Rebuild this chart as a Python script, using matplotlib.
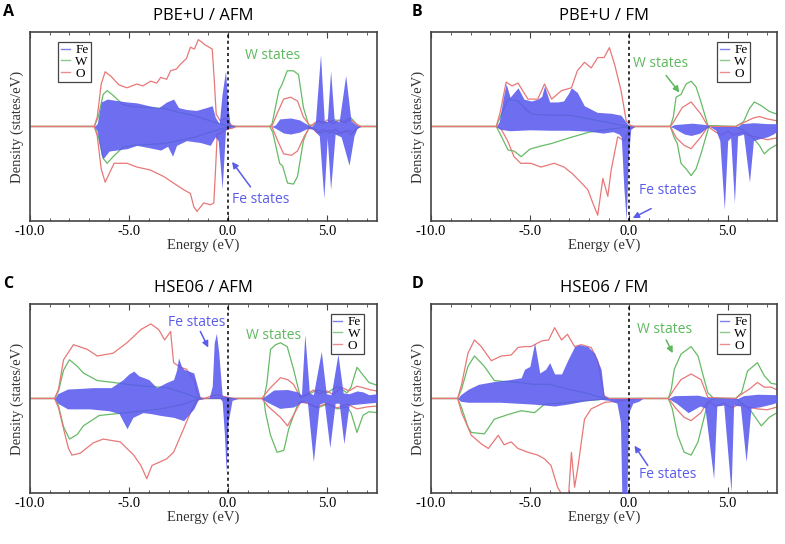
import matplotlib
matplotlib.use("Agg")
import matplotlib.pyplot as plt
from matplotlib.lines import Line2D
from matplotlib.ticker import MultipleLocator

# ---- data: (energy eV, density), up / down spin ----
# panel A: PBE+U / AFM
A_FE_UP = [(-10, 0), (-6.75, 0), (-6.6, 0.3), (-6.4, 2.6), (-6.1, 2.9), (-5.1, 2.6), (-4.6, 2.5),
           (-4.0, 2.2), (-3.5, 2.0), (-3.1, 2.6), (-2.75, 2.9), (-2.5, 2.0), (-2.1, 1.8), (-1.6, 1.7),
           (-1.1, 2.0), (-0.8, 2.2), (-0.65, 1.0), (-0.45, 0.3), (-0.3, 3.5), (-0.13, 5.9), (0.0, 2.0),
           (0.1, 0.2), (0.4, 0), (2.2, 0), (2.4, 0.2), (2.6, 0.8), (3.15, 0.9), (3.6, 0.7), (4.0, 0.2),
           (4.2, 0), (4.4, 0.4), (4.66, 7.6), (4.85, 0.6), (5.0, 0.5), (5.17, 5.9), (5.35, 0.7),
           (5.6, 0.5), (5.93, 5.4), (6.2, 0.6), (6.45, 0.2), (6.6, 0), (7.5, 0)]
A_FE_DN = [(-10, 0), (-6.75, 0), (-6.6, -0.5), (-6.4, -3.0), (-6.3, -3.4), (-6.0, -2.6), (-5.1, -2.35),
           (-4.6, -2.0), (-4.1, -2.2), (-3.4, -2.5), (-3.05, -2.1), (-2.8, -3.15), (-2.6, -2.0),
           (-2.1, -1.5), (-1.4, -1.7), (-0.9, -2.0), (-0.65, -1.1), (-0.5, -1.5), (-0.3, -6.6),
           (-0.13, -0.4), (0.1, -0.1), (0.4, 0), (2.2, 0), (2.4, -0.2), (2.8, -0.7), (3.15, -0.8),
           (3.6, -0.6), (4.0, -0.2), (4.3, -0.3), (4.6, -1.0), (4.83, -7.6), (5.0, -1.2), (5.17, -6.7),
           (5.4, -0.8), (5.7, -1.1), (6.1, -4.1), (6.35, -1.0), (6.5, -0.2), (6.7, 0), (7.5, 0)]
A_W_UP = [(-10, 0), (-6.75, 0), (-6.55, 1.0), (-6.3, 3.4), (-6.1, 3.8), (-5.8, 3.3), (-5.3, 2.3),
          (-4.8, 2.1), (-4.0, 2.0), (-3.2, 1.9), (-2.5, 1.5), (-1.8, 1.2), (-1.2, 0.8), (-0.6, 0.4),
          (-0.1, 0.1), (0.3, 0), (2.1, 0), (2.22, 0.3), (2.56, 3.8), (2.73, 4.5), (2.98, 5.9),
          (3.3, 5.9), (3.55, 5.5), (3.8, 2.0), (4.07, 0.1), (4.3, 0.2), (4.6, 0.6), (5.0, 0.4),
          (5.4, 0.7), (5.8, 0.5), (6.2, 0.9), (6.5, 0.2), (6.7, 0), (7.5, 0)]
A_W_DN = [(-10, 0), (-6.75, 0), (-6.55, -1.0), (-6.3, -3.4), (-6.1, -3.9), (-5.8, -3.2), (-5.3, -2.2),
          (-4.8, -2.0), (-4.0, -1.9), (-3.2, -1.8), (-2.5, -1.5), (-1.8, -1.2), (-1.2, -0.8), (-0.6, -0.4),
          (-0.1, -0.1), (0.3, 0), (2.1, 0), (2.25, -0.6), (2.6, -3.9), (2.75, -4.2), (3.0, -6.0),
          (3.3, -6.1), (3.5, -5.3), (3.8, -1.5), (4.07, -0.1), (4.4, -0.3), (4.7, -0.7), (5.1, -0.4),
          (5.5, -0.8), (5.9, -0.5), (6.2, -0.9), (6.5, -0.2), (6.7, 0), (7.5, 0)]
A_O_UP = [(-10, 0), (-6.75, 0), (-6.6, 1.0), (-6.4, 4.5), (-6.2, 5.8), (-5.9, 5.3), (-5.5, 4.4),
          (-5.1, 4.1), (-4.6, 4.5), (-4.3, 4.3), (-3.9, 4.8), (-3.6, 4.6), (-3.4, 5.2), (-3.1, 5.0),
          (-2.9, 5.9), (-2.6, 6.1), (-2.4, 6.6), (-2.1, 7.2), (-1.9, 8.4), (-1.7, 8.2), (-1.5, 9.2),
          (-1.3, 8.9), (-1.2, 8.7), (-0.8, 8.2), (-0.7, 5.0), (-0.6, 1.3), (-0.4, 0.6), (-0.15, 0.9),
          (0.0, 0.5), (0.2, 0.1), (0.4, 0), (2.2, 0), (2.5, 1.5), (2.8, 2.9), (3.15, 3.1), (3.5, 2.7),
          (3.8, 1.0), (4.15, 0), (4.5, 0.6), (4.8, 0.3), (5.0, 0.7), (5.3, 0.3), (5.6, 0.7), (5.9, 0.4),
          (6.2, 0.7), (6.5, 0.2), (6.7, 0), (7.5, 0)]
A_O_DN = [(-10, 0), (-6.75, 0), (-6.6, -1.0), (-6.4, -4.5), (-6.2, -5.9), (-5.75, -3.9), (-5.1, -3.9),
          (-4.6, -4.3), (-3.94, -4.6), (-3.25, -5.3), (-2.75, -6.0), (-2.24, -6.7), (-1.9, -7.1),
          (-1.73, -8.5), (-1.57, -9.0), (-1.23, -8.1), (-0.89, -8.3), (-0.72, -8.1), (-0.62, -4.0),
          (-0.55, -0.8), (-0.35, -0.7), (-0.15, -0.3), (0.2, -0.2), (0.4, 0), (2.2, 0), (2.5, -1.5),
          (2.8, -2.9), (3.2, -3.05), (3.5, -2.6), (3.85, -1.0), (4.15, 0), (4.5, -0.7), (4.8, -0.3),
          (5.1, -0.7), (5.4, -0.3), (5.7, -0.7), (6.0, -0.4), (6.3, -0.6), (6.6, 0), (7.5, 0)]

# panel B: PBE+U / FM
B_FE_UP = [(-10, 0), (-6.7, 0), (-6.55, 0.5), (-6.35, 3.0), (-6.2, 4.5), (-6.0, 3.1), (-5.8, 3.6),
           (-5.6, 4.1), (-5.3, 2.9), (-4.93, 2.7), (-4.6, 2.9), (-4.4, 3.2), (-4.26, 4.3), (-4.0, 2.6),
           (-3.6, 2.6), (-3.3, 2.7), (-3.05, 3.5), (-2.9, 4.1), (-2.6, 3.6), (-2.25, 2.2), (-1.6, 1.5),
           (-0.9, 1.4), (-0.4, 1.2), (-0.15, 0.5), (0.0, 0.1), (0.3, 0), (2.1, 0), (2.3, 0.2),
           (3.2, 0.35), (3.9, 0.2), (4.1, 0), (5.5, 0), (5.7, 0.3), (6.3, 0.4), (7.0, 0.3), (7.5, 0.3)]
B_FE_DN = [(-10, 0), (-6.7, 0), (-6.5, -0.3), (-6.0, -0.45), (-5.0, -0.35), (-4.0, -0.4), (-3.0, -0.4),
           (-2.0, -0.5), (-1.3, -0.7), (-0.8, -0.55), (-0.5, -0.8), (-0.38, -1.1), (-0.25, -6.5),
           (-0.13, -9.9), (-0.02, -3.2), (0.1, -0.3), (0.3, 0), (2.1, 0), (2.3, -0.2), (2.8, -0.8),
           (3.15, -0.95), (3.6, -0.7), (3.9, -0.2), (4.1, 0), (4.4, -0.4), (4.6, -1.5), (4.83, -8.8),
           (5.0, -1.5), (5.15, -1.2), (5.34, -8.1), (5.5, -1.0), (5.8, -0.8), (6.1, -5.9), (6.3, -1.5),
           (6.6, -1.3), (7.0, -1.1), (7.3, -0.8), (7.5, -0.5)]
B_W_UP = [(-10, 0), (-6.7, 0), (-6.5, 1.0), (-6.1, 2.9), (-5.6, 2.7), (-5.2, 1.8), (-4.9, 1.3),
          (-4.0, 1.2), (-3.0, 1.2), (-2.0, 0.8), (-1.0, 0.4), (-0.3, 0.1), (0.3, 0), (2.1, 0),
          (2.25, 1.0), (2.39, 3.1), (2.64, 3.4), (2.9, 4.5), (3.15, 4.8), (3.4, 4.2), (3.65, 2.6),
          (4.0, 0.1), (5.4, 0), (5.8, 0.5), (6.1, 1.9), (6.35, 2.6), (6.7, 2.2), (7.1, 1.6), (7.5, 1.3)]
B_W_DN = [(-10, 0), (-6.7, 0), (-6.5, -0.8), (-6.1, -2.5), (-5.8, -2.6), (-5.44, -3.2), (-5.0, -2.4),
          (-4.5, -2.1), (-3.9, -1.8), (-3.0, -1.2), (-2.0, -0.6), (-1.0, -0.3), (-0.3, -0.1), (0.3, 0),
          (2.1, 0), (2.3, -1.2), (2.45, -1.8), (2.64, -3.9), (2.9, -4.5), (3.15, -5.2), (3.4, -4.5),
          (3.65, -2.9), (4.05, 0), (5.4, 0), (5.8, -0.4), (6.2, -1.0), (6.6, -2.0), (6.85, -2.9),
          (7.1, -2.4), (7.5, -1.9)]
B_O_UP = [(-10, 0), (-6.7, 0), (-6.5, 1.5), (-6.2, 4.7), (-5.9, 4.3), (-5.6, 4.6), (-5.1, 2.9),
          (-4.6, 2.9), (-4.26, 4.5), (-3.9, 2.9), (-3.4, 3.8), (-2.9, 4.1), (-2.6, 5.9), (-2.24, 6.8),
          (-1.9, 6.2), (-1.57, 7.3), (-1.25, 7.3), (-0.98, 8.35), (-0.72, 6.6), (-0.39, 3.8),
          (-0.13, 0.6), (0.1, 0.1), (0.3, 0), (2.1, 0), (2.3, 0.6), (2.7, 2.0), (3.15, 2.6), (3.65, 1.3),
          (4.0, 0), (5.4, 0), (5.8, 0.4), (6.3, 0.9), (6.6, 1.05), (7.0, 0.8), (7.5, 0.6)]
B_O_DN = [(-10, 0), (-6.7, 0), (-6.46, -0.25), (-6.13, -1.5), (-5.8, -3.2), (-5.46, -3.9), (-4.95, -3.9),
          (-4.44, -4.3), (-3.77, -3.9), (-3.27, -4.3), (-2.85, -5.0), (-2.43, -5.9), (-2.07, -6.7),
          (-1.82, -8.1), (-1.57, -9.4), (-1.31, -5.5), (-1.06, -7.4), (-0.89, -4.6), (-0.56, -1.1),
          (-0.22, -1.5), (0.0, -0.3), (0.3, 0), (2.1, 0), (2.4, -1.2), (2.8, -2.0), (3.15, -2.35),
          (3.65, -1.1), (4.0, 0), (4.4, -0.6), (4.7, -0.9), (5.0, -0.5), (5.3, -0.9), (5.7, -0.6),
          (6.1, -1.0), (6.6, -1.2), (7.0, -1.4), (7.5, -1.2)]

# panel C: HSE06 / AFM
C_FE_UP = [(-10, 0), (-8.75, 0), (-8.6, 0.5), (-8.1, 1.0), (-7.6, 1.05), (-6.8, 1.15), (-5.9, 1.15),
           (-5.3, 2.0), (-5.0, 2.6), (-4.76, 2.9), (-4.5, 2.4), (-4.0, 2.0), (-3.6, 1.15), (-3.1, 1.7),
           (-2.75, 2.0), (-2.6, 3.0), (-2.5, 4.3), (-2.35, 3.4), (-2.24, 3.1), (-1.73, 2.7), (-1.55, 1.3),
           (-1.4, 0.1), (-1.1, 0), (-0.95, 0.1), (-0.8, 1.3), (-0.7, 5.9), (-0.59, 6.9), (-0.47, 4.8),
           (-0.3, 0.3), (0.2, 0.1), (0.5, 0), (1.7, 0), (1.9, 0.3), (2.3, 0.9), (3.0, 0.95), (3.5, 0.7),
           (3.7, 0.4), (3.87, 6.8), (4.1, 0.6), (4.3, 0.4), (4.7, 5.0), (4.95, 0.5), (5.2, 0.4),
           (5.54, 4.7), (5.8, 0.6), (6.1, 0.5), (6.5, 0.8), (6.8, 0.7), (7.1, 0.4), (7.5, 0.5)]
C_FE_DN = [(-10, 0), (-8.75, 0), (-8.6, -0.5), (-8.1, -1.1), (-7.0, -1.1), (-6.0, -1.3), (-5.5, -1.6),
           (-5.1, -3.2), (-4.8, -2.0), (-4.3, -1.5), (-3.9, -1.6), (-3.4, -1.8), (-2.75, -2.0),
           (-2.24, -2.35), (-1.73, -1.1), (-1.5, -0.1), (-1.2, 0), (-0.4, 0), (-0.3, -0.3), (-0.18, -4.0),
           (-0.1, -7.8), (0.0, -2.5), (0.2, -0.2), (0.5, 0), (1.7, 0), (1.9, -0.3), (2.6, -1.05),
           (3.3, -0.9), (3.7, -0.4), (4.0, -0.4), (4.3, -6.7), (4.6, -0.6), (4.85, -0.4), (5.13, -5.2),
           (5.4, -0.5), (5.6, -0.5), (5.84, -4.8), (6.1, -0.7), (6.5, -0.6), (7.0, -0.5), (7.5, -0.4)]
C_W_UP = [(-10, 0), (-8.75, 0), (-8.55, 0.8), (-8.3, 3.0), (-8.0, 4.1), (-7.6, 3.4), (-7.3, 2.7),
          (-6.6, 1.9), (-5.8, 1.7), (-5.1, 1.5), (-4.2, 1.3), (-3.1, 1.15), (-2.24, 0.6), (-1.6, 0.1),
          (-1.2, 0), (1.8, 0), (1.95, 1.5), (2.14, 5.2), (2.4, 5.7), (2.64, 5.9), (2.98, 5.5), (3.3, 3.1),
          (3.65, 0.1), (4.0, 0.4), (4.5, 0.9), (5.0, 0.6), (5.5, 1.3), (6.0, 0.6), (6.2, 1.2), (6.5, 3.3),
          (6.8, 2.5), (7.1, 1.7), (7.5, 1.4)]
C_W_DN = [(-10, 0), (-8.75, 0), (-8.55, -0.8), (-8.3, -3.0), (-8.0, -4.3), (-7.6, -3.8), (-7.3, -2.9),
          (-6.5, -1.8), (-5.1, -1.5), (-3.4, -1.1), (-2.24, -0.6), (-1.6, -0.1), (-1.2, 0), (1.8, 0),
          (1.89, -1.5), (2.14, -3.9), (2.47, -5.7), (2.81, -5.5), (3.06, -3.2), (3.48, -0.8), (3.7, -0.3),
          (4.0, -0.5), (4.5, -1.0), (5.0, -0.6), (5.5, -1.1), (6.0, -0.9), (6.2, -1.5), (6.5, -3.6),
          (6.8, -1.8), (7.1, -1.4), (7.5, -1.5)]
C_O_UP = [(-10, 0), (-8.75, 0), (-8.55, 1.0), (-8.3, 4.1), (-7.8, 5.7), (-7.1, 5.2), (-6.6, 4.5),
          (-5.8, 4.8), (-5.1, 5.9), (-4.4, 7.3), (-3.9, 7.9), (-3.5, 7.3), (-3.2, 6.2), (-2.9, 7.1),
          (-2.75, 3.8), (-2.4, 3.3), (-2.1, 3.1), (-1.73, 2.0), (-1.5, 0.1), (-1.2, 0), (-0.8, 0.3),
          (-0.5, 0.4), (-0.2, 0.2), (0.3, 0), (1.7, 0), (2.0, 0.8), (2.14, 1.15), (2.64, 2.2), (3.0, 2.0),
          (3.3, 1.5), (3.65, 0.1), (4.0, 0.5), (4.3, 0.9), (4.6, 0.5), (5.0, 0.8), (5.3, 0.4), (5.7, 1.2),
          (6.1, 0.8), (6.5, 1.3), (6.8, 1.15), (7.2, 0.9), (7.5, 0.8)]
C_O_DN = [(-10, 0), (-8.75, 0), (-8.55, -1.0), (-8.3, -3.2), (-8.05, -5.3), (-7.88, -6.0), (-7.46, -5.8),
          (-6.8, -4.7), (-6.3, -4.3), (-5.44, -4.6), (-5.1, -5.3), (-4.76, -6.0), (-4.4, -7.1),
          (-4.1, -8.5), (-3.84, -7.1), (-3.42, -6.7), (-3.1, -6.4), (-2.75, -5.7), (-2.24, -3.2),
          (-1.9, -1.5), (-1.6, -0.2), (-1.2, 0), (0.3, 0), (1.7, 0), (2.0, -0.8), (2.64, -2.0),
          (3.0, -2.9), (3.65, -0.4), (4.0, -0.5), (4.5, -0.9), (5.0, -0.5), (5.5, -1.0), (6.0, -0.6),
          (6.5, -1.1), (7.0, -0.9), (7.5, -0.8)]

# panel D: HSE06 / FM
D_FE_UP = [(-10, 0), (-8.65, 0), (-8.5, 0.4), (-8.1, 1.0), (-7.6, 1.5), (-6.8, 1.8), (-6.0, 2.0),
           (-5.44, 2.2), (-5.27, 3.1), (-5.0, 3.4), (-4.76, 5.9), (-4.5, 2.7), (-4.2, 3.1), (-4.0, 3.8),
           (-3.75, 2.6), (-3.4, 2.6), (-3.1, 4.0), (-2.74, 5.5), (-2.5, 5.7), (-2.07, 5.5), (-1.73, 4.8),
           (-1.4, 3.1), (-1.25, 0.3), (-1.0, 0), (2.0, 0), (2.3, 0.3), (3.5, 0.35), (4.0, 0.1), (5.5, 0),
           (5.8, 0.3), (6.5, 0.45), (7.5, 0.4)]
D_FE_DN = [(-10, 0), (-8.65, 0), (-8.5, -0.3), (-8.13, -0.4), (-6.5, -0.4), (-4.8, -0.6), (-3.75, -0.8),
           (-3.1, -0.6), (-2.2, -0.25), (-1.4, -0.1), (-1.0, -0.2), (-0.6, -0.5), (-0.42, -2.5),
           (-0.35, -10.5), (-0.1, -10.5), (0.0, -1.5), (0.2, -0.5), (0.5, -0.3), (0.7, 0), (2.0, 0),
           (2.4, -0.5), (3.0, -1.5), (3.6, -0.8), (3.85, -1.0), (4.29, -8.5), (4.45, -0.8), (4.8, -0.7),
           (5.17, -9.9), (5.3, -0.7), (5.64, -0.8), (5.93, -6.7), (6.18, -1.0), (6.6, -0.9), (7.2, -0.6),
           (7.5, -0.4)]
D_W_UP = [(-10, 0), (-8.65, 0), (-8.45, 1.0), (-8.13, 3.4), (-7.8, 4.5), (-7.3, 3.4), (-6.8, 1.9),
          (-6.3, 1.8), (-5.6, 1.7), (-4.8, 1.5), (-4.0, 1.5), (-3.1, 1.0), (-2.2, 0.6), (-1.4, 0.1),
          (-1.0, 0), (2.0, 0), (2.15, 1.0), (2.3, 3.1), (2.64, 4.7), (3.15, 5.5), (3.5, 4.5), (3.75, 2.5),
          (4.0, 0.6), (4.3, 0), (5.4, 0), (5.7, 0.6), (6.0, 2.9), (6.5, 3.8), (6.85, 2.4), (7.2, 1.6),
          (7.5, 1.5)]
D_W_DN = [(-10, 0), (-8.65, 0), (-8.45, -1.0), (-8.13, -3.0), (-7.96, -3.6), (-7.3, -3.75), (-6.8, -2.2),
          (-6.1, -1.7), (-5.44, -1.3), (-4.76, -1.5), (-4.26, -0.6), (-3.5, -0.5), (-2.5, -0.3),
          (-1.4, -0.1), (-1.0, 0), (2.0, 0), (2.2, -1.1), (2.47, -3.9), (2.8, -5.7), (3.15, -6.0),
          (3.5, -4.6), (4.0, -0.4), (4.3, 0), (5.4, 0), (5.8, -0.6), (6.2, -1.4), (6.7, -2.9), (7.1, -2.0),
          (7.5, -1.5)]
D_O_UP = [(-10, 0), (-8.65, 0), (-8.45, 1.5), (-8.13, 4.8), (-7.8, 6.2), (-7.46, 5.5), (-6.95, 4.0),
          (-6.45, 4.5), (-5.95, 4.6), (-5.6, 5.4), (-5.27, 5.5), (-4.94, 5.5), (-4.4, 6.1), (-4.05, 6.2),
          (-3.75, 7.5), (-3.4, 6.2), (-3.1, 6.8), (-2.74, 5.5), (-2.4, 5.7), (-1.9, 5.4), (-1.57, 4.0),
          (-1.25, 0.3), (-1.0, 0), (2.0, 0), (2.3, 1.0), (2.64, 2.0), (3.15, 2.6), (3.65, 2.0), (4.0, 0.1),
          (5.4, 0), (5.8, 0.6), (6.1, 1.0), (6.5, 1.7), (6.85, 1.2), (7.2, 1.2), (7.5, 0.9)]
D_O_DN = [(-10, 0), (-8.65, 0), (-8.45, -1.5), (-7.96, -3.9), (-7.46, -4.8), (-7.1, -5.3), (-6.6, -3.9),
          (-6.3, -4.9), (-5.95, -4.6), (-5.6, -5.3), (-5.1, -5.7), (-4.6, -6.0), (-4.26, -6.4),
          (-3.93, -7.1), (-3.6, -9.4), (-3.3, -10.5), (-3.05, -10.5), (-2.9, -5.7), (-2.74, -9.4),
          (-2.58, -7.4), (-2.24, -2.2), (-1.9, -1.1), (-1.2, -0.4), (-0.6, -0.3), (0.0, -0.1), (0.3, 0),
          (2.0, 0), (2.4, -1.1), (2.8, -2.0), (3.15, -2.35), (3.65, -1.5), (4.0, -0.3), (4.4, -0.8),
          (4.8, -0.5), (5.2, -1.0), (5.6, -0.6), (6.0, -0.9), (6.5, -1.1), (7.0, -1.2), (7.5, -0.9)]

TITLES = ["PBE+U / AFM", "PBE+U / FM", "HSE06 / AFM", "HSE06 / FM"]
LETTERS = ["A", "B", "C", "D"]
XTICKS = [-10, -5, 0, 5]
XTICKLABELS = ["-10.0", "-5.0", "0.0", "5.0"]

FE_C = "#5a5aee"
W_C = "#66bb66"
O_C = "#e87878"
TXT_FE = "#5c5cea"
TXT_W = "#5fb85f"

panels = [
    (A_FE_UP, A_FE_DN, A_W_UP, A_W_DN, A_O_UP, A_O_DN),
    (B_FE_UP, B_FE_DN, B_W_UP, B_W_DN, B_O_UP, B_O_DN),
    (C_FE_UP, C_FE_DN, C_W_UP, C_W_DN, C_O_UP, C_O_DN),
    (D_FE_UP, D_FE_DN, D_W_UP, D_W_DN, D_O_UP, D_O_DN),
]

# axes rectangles (figure fraction) and legend anchors
rects = [(0.038, 0.594, 0.442, 0.347), (0.549, 0.594, 0.441, 0.347),
         (0.038, 0.094, 0.442, 0.347), (0.549, 0.094, 0.441, 0.347)]
leg_anchor = [("upper left", (0.082, 0.95)), ("upper right", (0.922, 0.95)),
              ("upper right", (0.962, 0.95)), ("upper right", (0.922, 0.95))]
letter_x = [3 / 785, 412 / 785, 3 / 785, 412 / 785]
# annotations: (text, color, text xy, arrow tail xy or None, arrow head xy)
notes = [
    [("W states", TXT_W, (2.22, 7.5), None, None),
     ("Fe states", TXT_FE, (1.63, -7.7), (1.13, -6.4), (0.2, -3.75))],
    [("W states", TXT_W, (1.63, 6.7), (1.89, 5.4), (2.56, 3.6)),
     ("Fe states", TXT_FE, (1.97, -6.8), (1.13, -8.7), (0.2, -9.7))],
    [("Fe states", TXT_FE, (-1.57, 8.1), (-1.4, 7.1), (-1.0, 5.4)),
     ("W states", TXT_W, (2.3, 6.7), None, None)],
    [("W states", TXT_W, (1.8, 7.3), (1.89, 6.2), (2.22, 4.8)),
     ("Fe states", TXT_FE, (1.97, -8.1), (0.96, -7.1), (0.29, -5.0))],
]


def xy(curve):
    return [p[0] for p in curve], [p[1] for p in curve]


fig = plt.figure(figsize=(7.85, 5.44), dpi=100)
serif = "Liberation Serif"
sans = "Open Sans"

for i, data in enumerate(panels):
    ax = fig.add_axes(rects[i])
    fe_up, fe_dn, w_up, w_dn, o_up, o_dn = data
    for curve, c in [(w_up, W_C), (w_dn, W_C), (o_up, O_C), (o_dn, O_C)]:
        e, v = xy(curve)
        ax.plot(e, v, color=c, lw=0.9, zorder=2)
    e, v = xy(fe_up)
    ax.fill_between(e, 0, v, color=FE_C, alpha=0.88, lw=0, zorder=3)
    e, v = xy(fe_dn)
    ax.fill_between(e, v, 0, color=FE_C, alpha=0.88, lw=0, zorder=3)
    ax.axvline(0, color="black", ls=(0, (2, 2)), lw=1.1, zorder=4)

    ax.set_xlim(-10, 7.5)
    ax.set_ylim(-10, 10)
    ax.set_xticks(XTICKS)
    ax.set_xticklabels(XTICKLABELS, fontfamily=serif, fontsize=10.5)
    ax.xaxis.set_minor_locator(MultipleLocator(1))
    ax.tick_params(axis="x", which="both", direction="in", top=True, color="#444", pad=3)
    ax.tick_params(axis="x", which="major", length=4)
    ax.tick_params(axis="x", which="minor", length=2.5)
    ax.set_yticks([])
    for s in ax.spines.values():
        s.set_color("#444")
        s.set_linewidth(1.2)
    ax.set_xlabel("Energy (eV)", fontfamily=serif, fontsize=10.5, labelpad=0, color="#333")
    ax.set_ylabel("Density (states/eV)", fontfamily=serif, fontsize=10.5, labelpad=4, color="#333")
    ax.set_title(TITLES[i], fontfamily=sans, fontsize=12, pad=9)

    handles = [Line2D([], [], color="#8080e6", lw=1), Line2D([], [], color="#8cc88c", lw=1),
               Line2D([], [], color="#eb8c8c", lw=1)]
    loc, anchor = leg_anchor[i]
    leg = ax.legend(handles, ["Fe", "W", "O"], loc=loc, bbox_to_anchor=anchor,
                    prop={"family": serif, "size": 9.5}, fancybox=False, framealpha=1,
                    edgecolor="#444", handlelength=0.7, handletextpad=0.4,
                    borderpad=0.2, labelspacing=-0.05, borderaxespad=0)
    leg.get_frame().set_linewidth(0.9)
    leg.set_zorder(6)

    for text, c, txy, tail, head in notes[i]:
        ax.text(txy[0], txy[1], text, color=c, fontfamily=sans, fontsize=10,
                ha="center", va="center", zorder=7)
        if tail is not None:
            ax.annotate("", xy=head, xytext=tail, zorder=7,
                        arrowprops=dict(arrowstyle="-|>", color=c, lw=1.1,
                                        mutation_scale=9, shrinkA=0, shrinkB=0))

    x0, y0, w, h = rects[i]
    fig.text(letter_x[i], y0 + h + 0.037, LETTERS[i], fontfamily=sans,
             fontweight="bold", fontsize=11.5, ha="left", va="center")

fig.savefig("out.png", dpi=100)
